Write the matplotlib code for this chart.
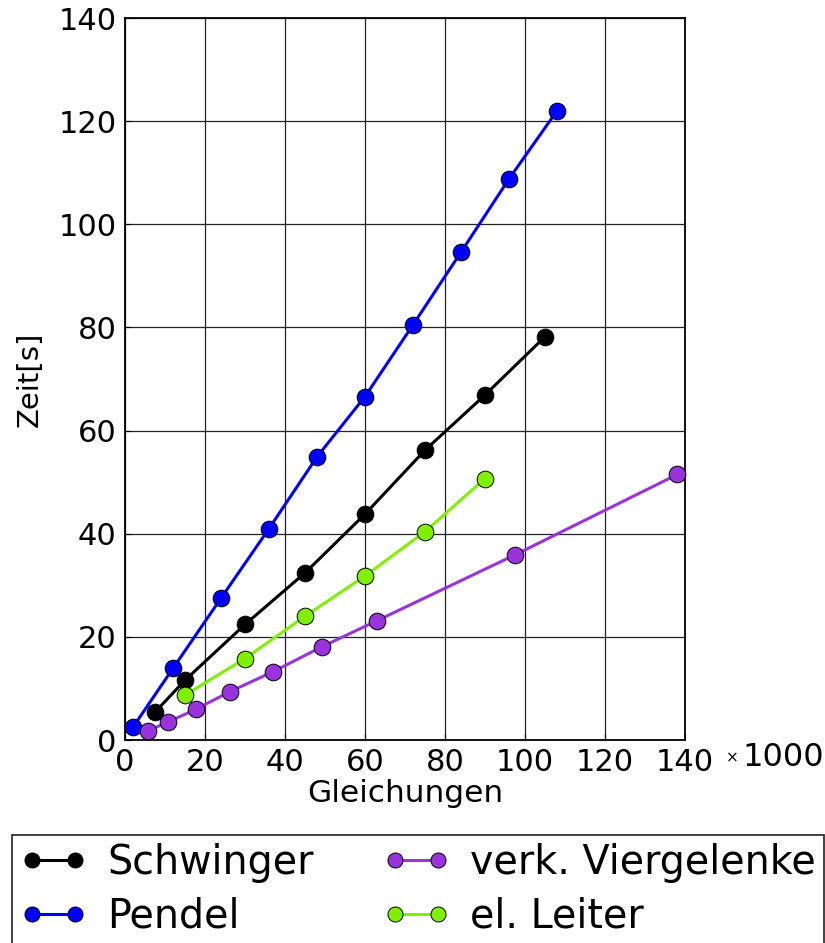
import matplotlib
matplotlib.use("Agg")
import matplotlib.pyplot as plt

# Solver timings: number of equations (x 1000) vs. time in seconds
pendel_x = [2, 12, 24, 36, 48, 60, 72, 84, 96, 108]
pendel_y = [2.5, 13.9, 27.5, 41.0, 54.9, 66.6, 80.5, 94.6, 108.8, 122.0]

schwinger_x = [7.5, 15, 30, 45, 60, 75, 90, 105]
schwinger_y = [5.4, 11.6, 22.4, 32.4, 43.8, 56.2, 66.9, 78.2]

leiter_x = [15, 30, 45, 60, 75, 90]
leiter_y = [8.7, 15.8, 24.0, 31.8, 40.4, 50.7]

vierg_x = [5.8, 10.8, 17.8, 26.3, 36.9, 49.3, 62.9, 97.5, 138.1]
vierg_y = [1.8, 3.5, 6.0, 9.4, 13.2, 18.1, 23.1, 35.9, 51.5]

x_ticks = [0, 20, 40, 60, 80, 100, 120, 140]
y_ticks = [0, 20, 40, 60, 80, 100, 120, 140]

plt.rcParams['font.family'] = ['DejaVu Sans']

W, H = 825, 943
fig = plt.figure(figsize=(W / 100, H / 100), dpi=100)
ax = fig.add_axes([125 / W, 1 - 740 / H, 560 / W, 722 / H])

style = dict(lw=2.2, marker='o', ms=12, mec='k', mew=0.7, clip_on=False, zorder=3)
l_schw, = ax.plot(schwinger_x, schwinger_y, color='black', mfc='black', label='Schwinger', **style)
l_pend, = ax.plot(pendel_x, pendel_y, color='#0000ff', mfc='#0000ff', label='Pendel', **style)
l_vier, = ax.plot(vierg_x, vierg_y, color='#9933dd', mfc='#9933dd', label='verk. Viergelenke', **style)
l_leit, = ax.plot(leiter_x, leiter_y, color='#80f000', mfc='#80f000', label='el. Leiter', **style)

ax.set_xlim(0, 140)
ax.set_ylim(0, 140)
ax.set_xticks(x_ticks)
ax.set_yticks(y_ticks)
ax.grid(True, color='#222222', lw=0.9, ls='-')
ax.set_axisbelow(True)
ax.tick_params(direction='in', length=4, labelsize=22, pad=6, colors='black')
for sp in ax.spines.values():
    sp.set_linewidth(1.3)
    sp.set_color('black')

ax.set_xlabel('Gleichungen', fontsize=22.5, labelpad=1)
ax.set_ylabel('Zeit[s]', fontsize=21, labelpad=11)

# axis multiplier
fig.text(732 / W, 1 - 758 / H, '×', fontsize=11, ha='center', va='center')
fig.text(742 / W, 1 - 758 / H, '1000', fontsize=23, ha='left', va='center')

leg = fig.legend(handles=[l_schw, l_pend, l_vier, l_leit], ncol=2,
                 loc='upper left', bbox_to_anchor=(12 / W, 1 - 835 / H),
                 fontsize=28.5, numpoints=2, handlelength=1.7, handletextpad=0.5,
                 columnspacing=1.75, labelspacing=0.34, borderpad=0.2,
                 borderaxespad=0, fancybox=False, frameon=True, markerscale=0.9)
leg.get_frame().set_edgecolor('black')
leg.get_frame().set_linewidth(1.3)

fig.savefig('out.png', dpi=100)
